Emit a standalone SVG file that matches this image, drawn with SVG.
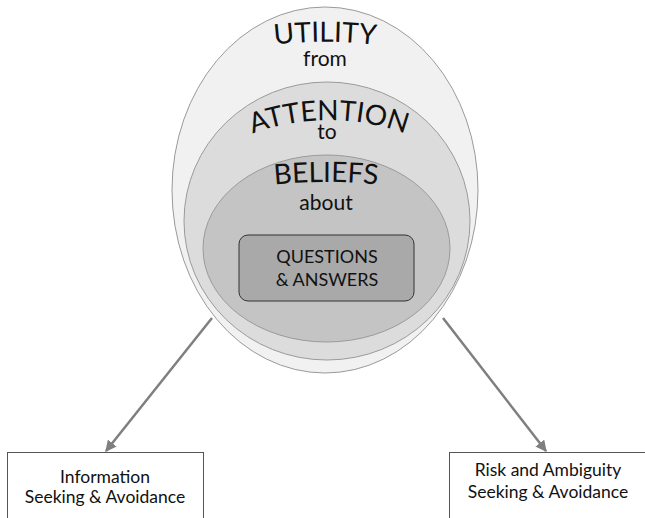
<svg xmlns="http://www.w3.org/2000/svg" width="645" height="518" viewBox="0 0 645 518">
  <style>
    .ring { stroke: #9a9a9a; stroke-width: 1; }
    .lbl { font-family: Lato, "Open Sans", "Liberation Sans", sans-serif; fill: #111; text-anchor: middle; }
    .big { font-size: 28px; }
    .small { font-size: 21px; }
    .qa { font-size: 18px; }
    .box { fill: #fff; stroke: #555; stroke-width: 1; }
    .boxtxt { font-size: 17.5px; }
    .conn { stroke: #7f7f7f; stroke-width: 2.5; fill: none; marker-end: url(#head); }
  </style>
  <defs>
    <marker id="head" viewBox="0 0 10 10" refX="9" refY="5" markerWidth="4.5" markerHeight="4.5" orient="auto">
      <path d="M0,0 L10,5 L0,10 Z" fill="#7f7f7f"/>
    </marker>
    <!-- baselines for the arched headings -->
    <path id="arcUtility" d="M 220,55 A 420 420 0 0 1 430,55"/>
    <path id="arcAttention" d="M 229,144 A 221 221 0 0 1 429,144"/>
    <path id="arcBeliefs" d="M 226,192 A 500 500 0 0 1 426,192"/>
  </defs>

  <g id="utility">
    <ellipse class="ring" cx="325" cy="190" rx="153" ry="183" fill="#f1f1f1"/>
    <text class="lbl big"><textPath href="#arcUtility" startOffset="50%">UTILITY</textPath></text>
    <text class="lbl small" x="325" y="66">from</text>
  </g>

  <g id="attention">
    <ellipse class="ring" cx="327" cy="221" rx="143" ry="139" fill="#dcdcdc"/>
    <text class="lbl big"><textPath href="#arcAttention" startOffset="50%">ATTENTION</textPath></text>
    <text class="lbl small" x="327" y="139">to</text>
  </g>

  <g id="beliefs">
    <ellipse class="ring" cx="326.5" cy="248.5" rx="123.5" ry="93.5" fill="#c4c4c4"/>
    <text class="lbl big"><textPath href="#arcBeliefs" startOffset="50%">BELIEFS</textPath></text>
    <text class="lbl small" x="326" y="210">about</text>
  </g>

  <g id="questions">
    <rect x="239" y="235" width="175" height="66" rx="9" fill="#a9a9a9" stroke="#333" stroke-width="1"/>
    <text class="lbl qa" x="327" y="263">QUESTIONS</text>
    <text class="lbl qa" x="327" y="286">&amp; ANSWERS</text>
  </g>

  <g id="connectors">
    <line class="conn" x1="212" y1="318" x2="106" y2="451"/>
    <line class="conn" x1="443" y1="318" x2="546" y2="451"/>
  </g>

  <g id="information">
    <rect class="box" x="7.5" y="452.5" width="196" height="80"/>
    <text class="lbl boxtxt" x="105" y="483">Information</text>
    <text class="lbl boxtxt" x="105" y="503">Seeking &amp; Avoidance</text>
  </g>

  <g id="risk">
    <rect class="box" x="449.5" y="452.5" width="210" height="80"/>
    <text class="lbl boxtxt" x="548" y="476">Risk and Ambiguity</text>
    <text class="lbl boxtxt" x="548" y="498">Seeking &amp; Avoidance</text>
  </g>
</svg>
